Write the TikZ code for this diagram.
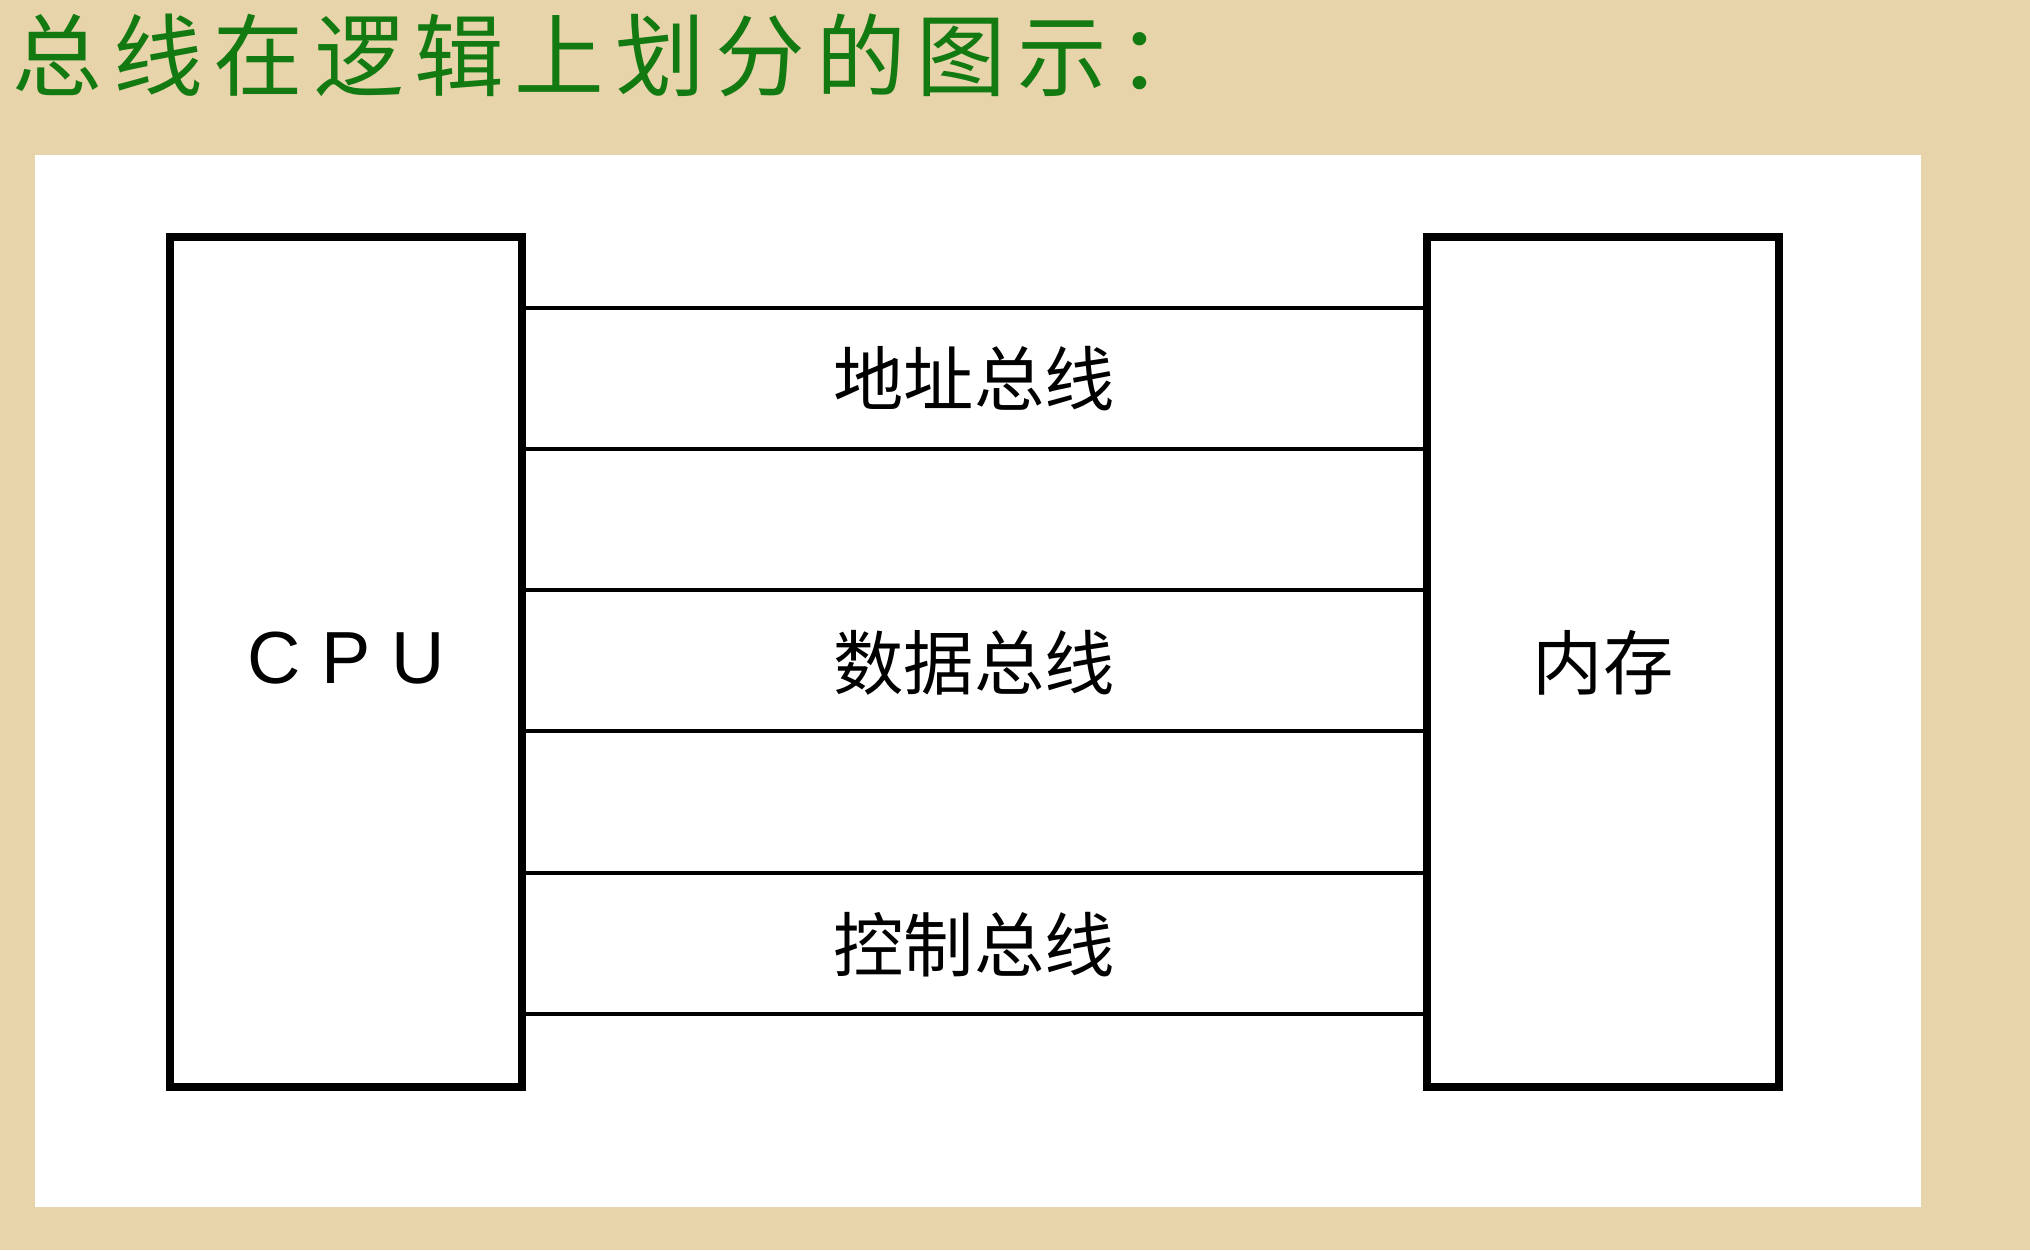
\documentclass[tikz,border=0pt]{standalone}
\usepackage{fontspec}
\setmainfont{Liberation Sans}
\newfontfamily\cjk{Noto Sans CJK SC}
\newfontfamily\cjktitle[LetterSpace=12]{Noto Sans CJK SC}
\definecolor{tanbg}{HTML}{E8D4AB}
\definecolor{titlegreen}{HTML}{137A12}
\begin{document}
\begin{tikzpicture}[x=0.01cm,y=-0.01cm,
  unitbox/.style={draw=black,line width=2.3pt,minimum width=352*0.01cm,minimum height=850*0.01cm,inner sep=0pt},
  busline/.style={draw=black,line width=1.1pt},
  buslabel/.style={inner sep=0pt,font=\cjk\fontsize{20}{24}\selectfont},
  titletext/.style={inner sep=0pt,anchor=west,text=titlegreen,font=\cjktitle\fontsize{25.5}{30}\selectfont}]
\useasboundingbox (0,0) rectangle (2030,1250);
\fill[tanbg] (0,0) rectangle (2030,1250);
\fill[white] (35,155) rectangle (1921,1207);
\node[titletext] (title) at (12,55) {总线在逻辑上划分的图示：};
\node[unitbox] (cpu) at (346,662) {};
\node[unitbox] (mem) at (1603,662) {};
\node[inner sep=0pt,font=\fontsize{21}{24}\selectfont] (cpulabel) at (346,658) {C\hspace{0.28em}P\hspace{0.28em}U};
\node[buslabel] (memlabel) at (1603,663) {内存};
\foreach \n/\yy in {a/308,b/449,c/590,d/731,e/873,f/1014}{
  \coordinate (l\n) at (cpu.east |- 0,\yy);
  \coordinate (r\n) at (mem.west |- 0,\yy);
  \draw[busline] (l\n) -- (r\n);
}
\node[buslabel] (addr) at (974,379) {地址总线};
\node[buslabel] (data) at (974,663) {数据总线};
\node[buslabel] (ctrl) at (974,945) {控制总线};
\end{tikzpicture}
\end{document}
